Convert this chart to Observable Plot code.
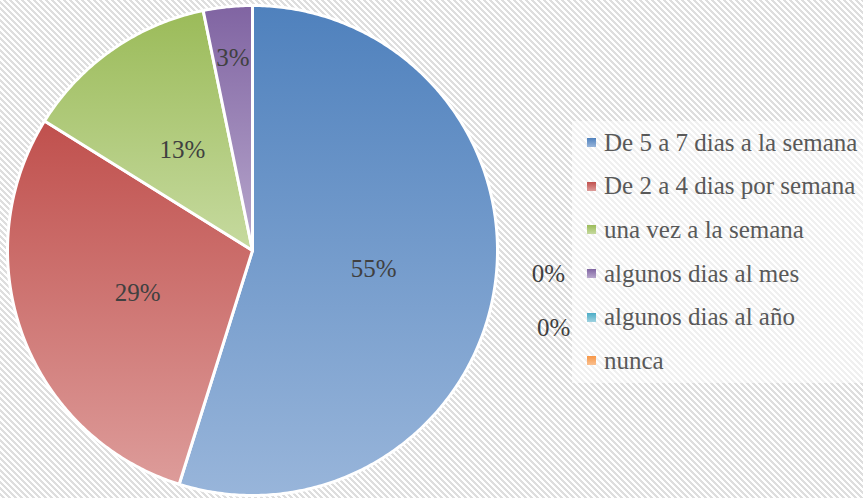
<!DOCTYPE html>
<html>
<head>
<meta charset="utf-8">
<script src="https://cdn.jsdelivr.net/npm/d3@7"></script>
<script src="https://cdn.jsdelivr.net/npm/@observablehq/plot@0.6"></script>
<style>
  html, body { margin: 0; padding: 0; background: #fff; }
  #wrap {
    position: relative; width: 863px; height: 498px; overflow: hidden;
    background: repeating-linear-gradient(45deg, #ffffff 0px, #ffffff 2.1px, #dedede 2.1px, #dedede 4.24px);
  }
  #chart svg { display: block; }
  #legend {
    position: absolute; left: 572px; top: 121px; width: 291px; height: 262px;
    background: rgba(255,255,255,0.55);
    font-family: "Liberation Serif", serif; font-size: 25px; color: #595959;
  }
  .row { height: 43.6px; display: flex; align-items: center; white-space: nowrap; }
  .sw { width: 9px; height: 9px; margin-left: 15px; margin-right: 8px; flex: none; }
</style>
</head>
<body>
<div id="wrap">
  <div id="chart"></div>
  <div id="legend"></div>
</div>
<script>
const categories = ["De 5 a 7 dias a la semana", "De 2 a 4 dias por semana", "una vez a la semana", "algunos dias al mes", "algunos dias al año", "nunca"];
const values = [17, 9, 4, 1, 0, 0];
const colorsTop = ["#4f81bd", "#c0504d", "#9bbb59", "#8064a2", "#4bacc6", "#f79646"];
const colorsBottom = ["#98b5da", "#dd9c9a", "#c6da9f", "#b8a8cd", "#9fd2e0", "#fac090"];
// label radius (fraction of pie radius) for non-zero slices
const labelRadius = [0.5, 0.5, 0.5, 0.79, null, null];
// positions of the 0% labels for the empty slices (unit circle coords)
const zeroLabelX = [null, null, null, null, 1.208, 1.229];
const zeroLabelY = [null, null, null, null, -0.094, -0.318];

const total = d3.sum(values);
const data = categories.map((c, i) => ({i, category: c, value: values[i],
  label: Math.round(values[i] / total * 100) + "%"}));
const arcs = d3.pie().sort(null).value(d => d.value)(data);

// polygon points for each slice (angle 0 at top, clockwise)
const pts = [];
arcs.forEach(a => {
  if (a.endAngle - a.startAngle <= 0) return;
  const k = a.data.i;
  pts.push({k, x: 0, y: 0});
  const n = Math.max(4, Math.ceil((a.endAngle - a.startAngle) / 0.01));
  for (let t = 0; t <= n; t++) {
    const ang = a.startAngle + (a.endAngle - a.startAngle) * t / n;
    pts.push({k, x: Math.sin(ang), y: Math.cos(ang)});
  }
  pts.push({k, x: 0, y: 0});
});

const labels = arcs.map(a => {
  const i = a.data.i;
  if (a.data.value > 0) {
    const m = (a.startAngle + a.endAngle) / 2;
    return {label: a.data.label, x: Math.sin(m) * labelRadius[i], y: Math.cos(m) * labelRadius[i]};
  }
  return {label: a.data.label, x: zeroLabelX[i], y: zeroLabelY[i]};
});

const defs = () => {
  const d = d3.create("svg:defs");
  colorsTop.forEach((c, i) => {
    const g = d.append("linearGradient").attr("id", "g" + i)
      .attr("x1", 0).attr("y1", 0).attr("x2", 0).attr("y2", 1);
    g.append("stop").attr("offset", "0%").attr("stop-color", c);
    g.append("stop").attr("offset", "100%").attr("stop-color", colorsBottom[i]);
  });
  return d.node();
};

const sliceMarks = data.filter(d => d.value > 0).map(d =>
  Plot.line(pts.filter(p => p.k === d.i), {
    x: "x", y: "y", fill: `url(#g${d.i})`, stroke: "white", strokeWidth: 3, strokeLinejoin: "round"
  })
);

const plot = Plot.plot({
  width: 863, height: 498, margin: 0,
  x: {domain: [-1, 1], range: [7, 497], axis: null},
  y: {domain: [-1, 1], range: [495, 5], axis: null},
  style: {background: "transparent", overflow: "visible"},
  marks: [
    defs,
    ...sliceMarks,
    Plot.text(labels, {x: "x", y: "y", text: "label", fill: "#404040", fontSize: 25,
      fontFamily: "Liberation Serif", textAnchor: "middle"})
  ]
});
document.getElementById("chart").appendChild(plot);

const legend = d3.select("#legend");
categories.forEach((c, i) => {
  const r = legend.append("div").attr("class", "row");
  r.append("div").attr("class", "sw")
    .style("background", `linear-gradient(${colorsTop[i]}, ${colorsBottom[i]})`);
  r.append("span").text(c);
});
</script>
</body>
</html>
